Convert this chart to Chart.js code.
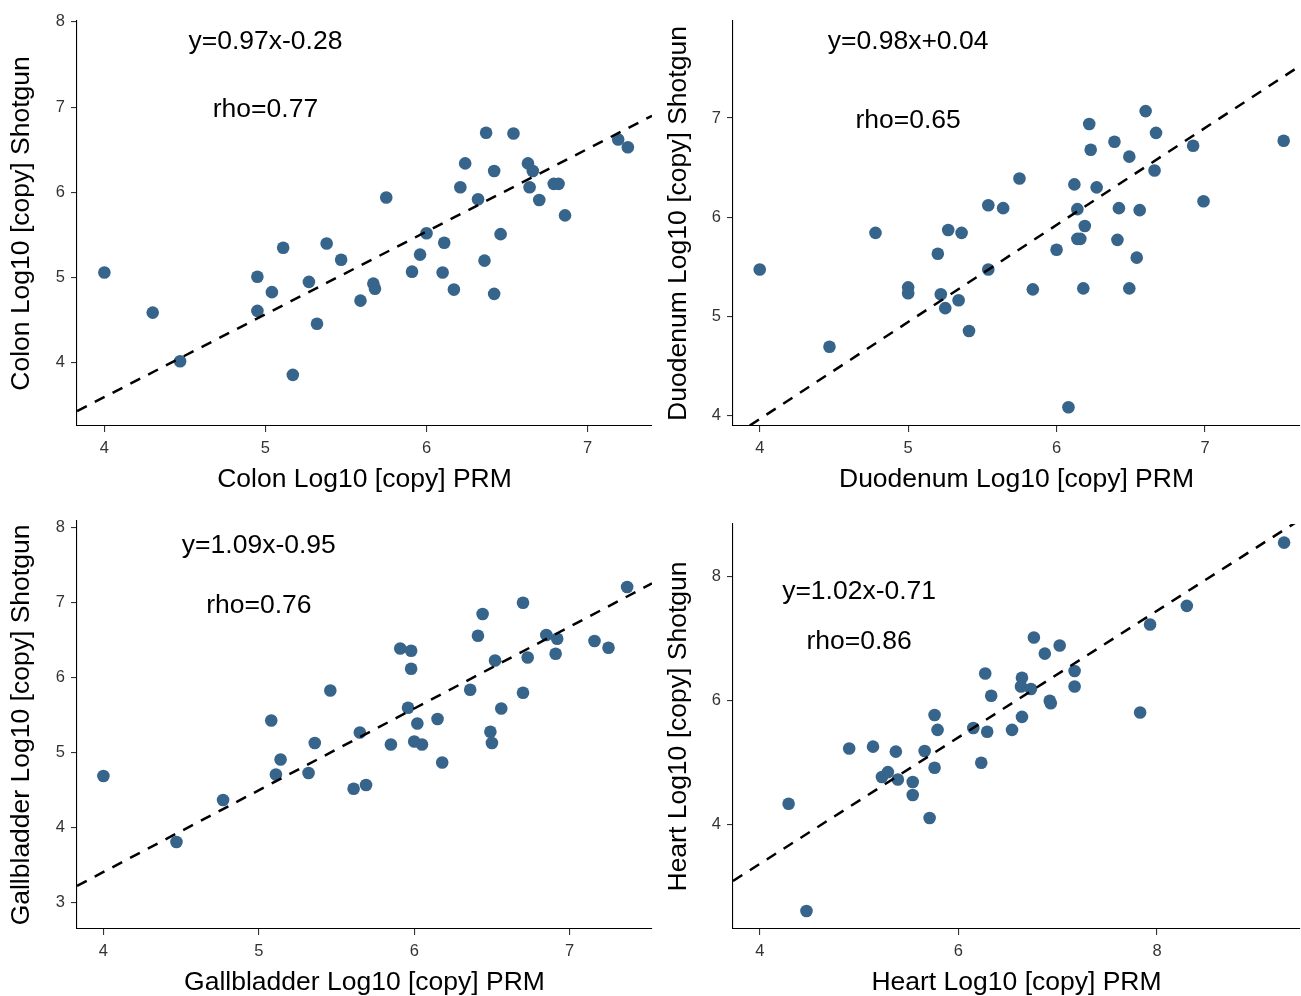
<!DOCTYPE html>
<html>
<head>
<meta charset="utf-8">
<title>PRM vs Shotgun</title>
<script src="https://cdn.jsdelivr.net/npm/chart.js@4.4.1/dist/chart.umd.min.js"></script>
<style>
  html, body { margin: 0; padding: 0; background: #fff; overflow: hidden; }
  #wrap { position: relative; width: 1301px; height: 996px; overflow: hidden; }
  canvas { position: absolute; }
</style>
</head>
<body>
<div id="wrap">
  <canvas id="colon" width="660" height="498" style="left:0;top:0"></canvas>
  <canvas id="duodenum" width="641" height="498" style="left:660px;top:0"></canvas>
  <canvas id="gallbladder" width="660" height="501" style="left:0;top:498px"></canvas>
  <canvas id="heart" width="641" height="501" style="left:660px;top:498px"></canvas>
</div>
<script>
// Log10 copy numbers per protein: PRM (x) vs shotgun (y)
const colonPrm = [4.0, 4.30, 4.47, 4.95, 4.95, 5.04, 5.11, 5.17, 5.27, 5.32, 5.38, 5.47, 5.59, 5.67, 5.68, 5.75, 5.91, 5.96, 6.0, 6.10, 6.11, 6.17, 6.21, 6.24, 6.32, 6.36, 6.37, 6.42, 6.42, 6.46, 6.54, 6.63, 6.64, 6.66, 6.70, 6.79, 6.82, 6.86, 7.19, 7.25];
const colonShotgun = [5.06, 4.59, 4.02, 5.01, 4.61, 4.83, 5.35, 3.86, 4.95, 4.46, 5.40, 5.21, 4.73, 4.93, 4.87, 5.94, 5.07, 5.27, 5.52, 5.06, 5.41, 4.86, 6.06, 6.34, 5.92, 5.20, 6.70, 4.81, 6.25, 5.51, 6.69, 6.34, 6.06, 6.25, 5.91, 6.10, 6.10, 5.73, 6.62, 6.53];

const duodenumPrm = [4.0, 4.47, 4.78, 5.0, 5.0, 5.20, 5.22, 5.25, 5.27, 5.34, 5.36, 5.41, 5.54, 5.54, 5.64, 5.75, 5.84, 6.0, 6.08, 6.12, 6.14, 6.19, 6.14, 6.16, 6.18, 6.22, 6.23, 6.27, 6.39, 6.42, 6.41, 6.49, 6.49, 6.54, 6.56, 6.60, 6.66, 6.67, 6.92, 6.99, 7.53];
const duodenumShotgun = [5.47, 4.69, 5.84, 5.29, 5.23, 5.63, 5.22, 5.08, 5.87, 5.16, 5.84, 4.85, 5.47, 6.12, 6.09, 6.39, 5.27, 5.67, 4.08, 6.33, 6.08, 5.91, 5.78, 5.78, 5.28, 6.94, 6.68, 6.30, 6.76, 6.09, 5.77, 6.61, 5.28, 5.59, 6.07, 7.07, 6.47, 6.85, 6.72, 6.16, 6.77];

const gallbladderPrm = [4.0, 4.47, 4.77, 5.08, 5.11, 5.14, 5.32, 5.36, 5.46, 5.61, 5.65, 5.69, 5.85, 5.91, 5.98, 5.98, 5.96, 6.02, 6.0, 6.05, 6.15, 6.18, 6.36, 6.41, 6.44, 6.49, 6.50, 6.52, 6.56, 6.70, 6.70, 6.73, 6.85, 6.92, 6.91, 7.16, 7.25, 7.37];
const gallbladderShotgun = [4.69, 3.81, 4.37, 5.43, 4.71, 4.91, 4.73, 5.13, 5.83, 4.52, 5.27, 4.57, 5.11, 6.39, 6.36, 6.12, 5.60, 5.39, 5.15, 5.11, 5.45, 4.87, 5.84, 6.56, 6.85, 5.28, 5.13, 6.23, 5.59, 5.80, 7.0, 6.27, 6.57, 6.52, 6.32, 6.49, 6.40, 7.21];

const heartPrm = [4.29, 4.47, 4.90, 5.14, 5.37, 5.23, 5.29, 5.39, 5.54, 5.54, 5.66, 5.76, 5.79, 5.76, 5.71, 6.15, 6.23, 6.27, 6.33, 6.29, 6.54, 6.64, 6.63, 6.73, 6.64, 6.76, 6.87, 7.02, 7.17, 7.17, 6.92, 6.93, 7.83, 7.93, 8.30, 9.28];
const heartShotgun = [4.34, 2.61, 5.23, 5.26, 5.18, 4.77, 4.85, 4.73, 4.69, 4.48, 5.19, 5.77, 5.53, 4.92, 4.11, 5.56, 5.0, 6.44, 6.08, 5.50, 5.53, 6.37, 6.23, 6.19, 5.74, 7.02, 6.76, 6.89, 6.48, 6.23, 6.00, 5.96, 5.81, 7.23, 7.53, 8.55];

// fit: [slope, intercept, rho]
const colonFit = [0.97, -0.28, 0.77];
const duodenumFit = [0.98, 0.04, 0.65];
const gallbladderFit = [1.09, -0.95, 0.76];
const heartFit = [1.02, -0.71, 0.86];

// tick values
const colonXTicks = [4, 5, 6, 7];
const colonYTicks = [4, 5, 6, 7, 8];
const duodenumXTicks = [4, 5, 6, 7];
const duodenumYTicks = [4, 5, 6, 7];
const gallbladderXTicks = [4, 5, 6, 7];
const gallbladderYTicks = [3, 4, 5, 6, 7, 8];
const heartXTicks = [4, 6, 8];
const heartYTicks = [4, 6, 8];

const FONT = "'Liberation Sans', Arial, sans-serif";
const POINT_COLOR = "#36648B";

function fmt(v) {
  const s = Math.abs(v).toFixed(2);
  return v < 0 ? "-" + s : "+" + s;
}

// equation + rho text placed in data coordinates
const annotationPlugin = {
  id: "fitText",
  afterDatasetsDraw(chart, args, opts) {
    const { ctx, scales } = chart;
    const x = scales.x.getPixelForValue(opts.at);
    ctx.save();
    ctx.font = "26.5px " + FONT;
    ctx.fillStyle = "#000";
    ctx.textAlign = "center";
    ctx.textBaseline = "middle";
    ctx.fillText(
      "y=" + opts.fit[0].toFixed(2) + "x" + fmt(opts.fit[1]),
      x,
      scales.y.getPixelForValue(7.8) + 3
    );
    ctx.fillText("rho=" + opts.fit[2].toFixed(2), x, scales.y.getPixelForValue(7.0) + 3);
    ctx.restore();
  },
};

function makePanel(id, tissue, xs, ys, fit, xTicks, yTicks, lim, layout) {
  const points = xs.map((x, i) => ({ x: x, y: ys[i] }));
  const fitLine = [lim.xmin, lim.xmax].map((x) => ({ x: x, y: fit[0] * x + fit[1] }));

  const axisCommon = {
    type: "linear",
    border: { display: true, color: "#000", width: 1.1 },
    grid: { display: true, drawOnChartArea: false, drawTicks: true, tickLength: 6, color: "#333", lineWidth: 1.1 },
  };

  new Chart(document.getElementById(id), {
    type: "scatter",
    data: {
      datasets: [
        {
          type: "line",
          data: fitLine,
          borderColor: "#000",
          borderWidth: 2.5,
          borderDash: [11, 9],
          pointRadius: 0,
          fill: false,
          order: 0,
        },
        {
          data: points,
          backgroundColor: POINT_COLOR,
          borderWidth: 0,
          pointRadius: 6.3,
          order: 1,
        },
      ],
    },
    options: {
      responsive: false,
      devicePixelRatio: 1,
      animation: false,
      layout: {
        autoPadding: false,
        padding: { top: layout.top, right: layout.right, left: 0, bottom: 0 },
      },
      plugins: {
        legend: { display: false },
        tooltip: { enabled: false },
        fitText: { fit: fit, at: 5 },
      },
      scales: {
        x: Object.assign({}, axisCommon, {
          min: lim.xmin,
          max: lim.xmax,
          afterBuildTicks: (s) => { s.ticks = xTicks.map((v) => ({ value: v })); },
          afterFit: (s) => { s.height = layout.xh; },
          ticks: { font: { family: FONT, size: 16.5 }, color: "#333", padding: 7 },
          title: {
            display: true,
            text: tissue + " Log10 [copy] PRM",
            font: { family: FONT, size: 26.5 },
            color: "#000",
            padding: { top: 0, bottom: layout.xtPad },
          },
        }),
        y: Object.assign({}, axisCommon, {
          min: lim.ymin,
          max: lim.ymax,
          afterBuildTicks: (s) => { s.ticks = yTicks.map((v) => ({ value: v })); },
          afterFit: (s) => { s.width = layout.yw; },
          ticks: { font: { family: FONT, size: 16.5 }, color: "#333", padding: 6 },
          title: {
            display: true,
            text: tissue + " Log10 [copy] Shotgun",
            font: { family: FONT, size: 26.5 },
            color: "#000",
            padding: { top: layout.ytPad, bottom: 0 },
          },
        }),
      },
    },
    plugins: [annotationPlugin],
  });
}

makePanel("colon", "Colon", colonPrm, colonShotgun, colonFit, colonXTicks, colonYTicks,
  { xmin: 3.83, xmax: 7.40, ymin: 3.26, ymax: 8.01 },
  { top: 21, right: 8, yw: 77, xh: 72, xtPad: 2, ytPad: 6 });

makePanel("duodenum", "Duodenum", duodenumPrm, duodenumShotgun, duodenumFit, duodenumXTicks, duodenumYTicks,
  { xmin: 3.82, xmax: 7.64, ymin: 3.89, ymax: 7.98 },
  { top: 21, right: 1, yw: 73, xh: 72, xtPad: 2, ytPad: 3 });

makePanel("gallbladder", "Gallbladder", gallbladderPrm, gallbladderShotgun, gallbladderFit, gallbladderXTicks, gallbladderYTicks,
  { xmin: 3.83, xmax: 7.53, ymin: 2.65, ymax: 8.09 },
  { top: 23, right: 8, yw: 77, xh: 70, xtPad: 0, ytPad: 6 });

makePanel("heart", "Heart", heartPrm, heartShotgun, heartFit, heartXTicks, heartYTicks,
  { xmin: 3.73, xmax: 9.44, ymin: 2.32, ymax: 8.85 },
  { top: 26, right: 1, yw: 73, xh: 70, xtPad: 0, ytPad: 3 });
</script>
</body>
</html>
